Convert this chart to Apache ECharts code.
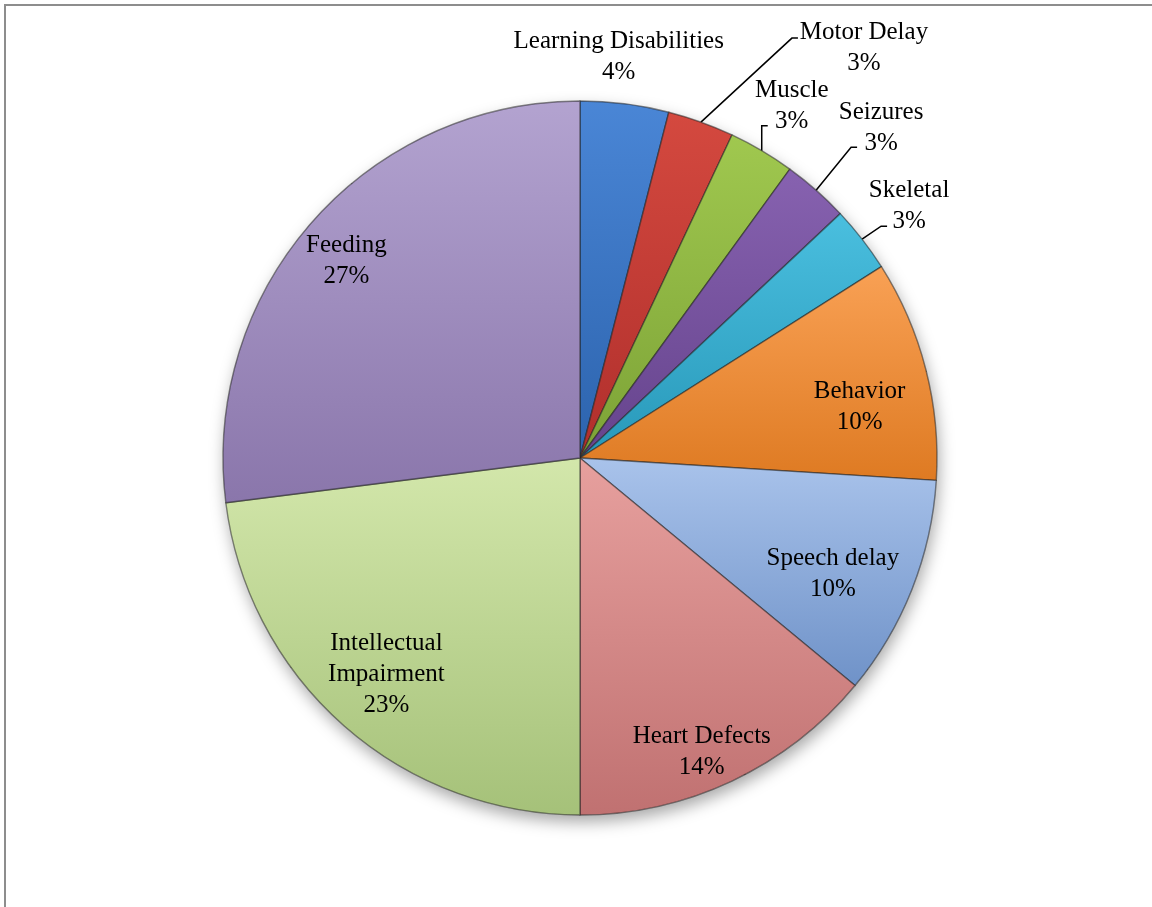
<!DOCTYPE html>
<html>
<head>
<meta charset="utf-8">
<script src="https://cdn.jsdelivr.net/npm/echarts@6/dist/echarts.min.js"></script>
<style>
  html, body { margin: 0; padding: 0; background: #ffffff; }
  #frame {
    position: absolute; left: 4px; top: 4px; width: 1160px; height: 920px;
    border-top: 2px solid #8d8d8d; border-left: 2px solid #8d8d8d;
  }
  #chart { position: absolute; left: 0; top: 0; width: 1152px; height: 907px; }
</style>
</head>
<body>
<div id="frame"></div>
<div id="chart"></div>
<script>
// Share of cases per clinical feature (percent)
const categories = [
  'Learning Disabilities', 'Motor Delay', 'Muscle', 'Seizures', 'Skeletal',
  'Behavior', 'Speech delay', 'Heart Defects', 'Intellectual Impairment', 'Feeding'
];
const percents = [4, 3, 3, 3, 3, 10, 10, 14, 23, 27];

// Slice fills: lighter top tone, darker bottom tone (bevelled look)
const topColors = ['#4a86d6', '#d4493f', '#a0c84f', '#8762b0', '#4abfdf',
                   '#f9a155', '#a9c3eb', '#e7a09e', '#d3e7ab', '#b3a3d0'];
const bottomColors = ['#2c63ad', '#b02f2c', '#7ca236', '#65438c', '#2898b9',
                      '#de7a22', '#6f92c8', '#c07171', '#a5c179', '#8a76ab'];

// Pie geometry
const CX = 580, CY = 458, R = 357;

// Labels drawn inside the slice: radial fraction of R plus small nudge
const insideLabel = {
  'Behavior':                { r: 0.80, dx: 3,   dy: 20 },
  'Speech delay':            { r: 0.78, dx: -6,  dy: 13 },
  'Heart Defects':           { r: 0.88, dx: -12, dy: 10 },
  'Intellectual Impairment': { r: 0.82, dx: 0,   dy: -3 },
  'Feeding':                 { r: 0.85, dx: -6,  dy: 4 }
};
// Labels drawn outside: offset of label centre from the slice's outer edge midpoint,
// and end point of the leader line relative to the label centre
const outsideLabel = {
  'Learning Disabilities': { dx: -6,  dy: -47, line: null },
  'Motor Delay':           { dx: 163, dy: -74, line: [-66, -10] },
  'Muscle':                { dx: 30,  dy: -45, line: [-24, 20] },
  'Seizures':              { dx: 65,  dy: -62, line: [-24, 19] },
  'Skeletal':              { dx: 47,  dy: -33, line: [-22, 20] }
};

const total = percents.reduce((a, b) => a + b, 0);
function midAngle(i) {
  let s = 0;
  for (let k = 0; k < i; k++) s += percents[k];
  return (s + percents[i] / 2) / total * Math.PI * 2;
}
function polar(theta, r) {
  return [CX + r * Math.sin(theta), CY - r * Math.cos(theta)];
}

const labelFont = {
  fontFamily: '"Liberation Serif", "Times New Roman", serif',
  fontSize: 25,
  lineHeight: 31,
  color: '#000000'
};

const seriesData = categories.map((name, i) => {
  const item = {
    name: name,
    value: percents[i],
    itemStyle: {
      color: new echarts.graphic.LinearGradient(0, 0, 0, 1, [
        { offset: 0, color: topColors[i] },
        { offset: 1, color: bottomColors[i] }
      ])
    }
  };
  if (outsideLabel[name]) {
    item.label = { position: 'outside' };
    item.labelLine = { show: !!outsideLabel[name].line };
  }
  return item;
});

const chart = echarts.init(document.getElementById('chart'), null, { renderer: 'canvas' });
chart.setOption({
  backgroundColor: 'transparent',
  animation: false,
  series: [
    {
      // soft drop shadow under the whole disc
      type: 'pie',
      silent: true,
      center: [CX, CY],
      radius: R,
      z: 1,
      label: { show: false },
      labelLine: { show: false },
      itemStyle: {
        color: '#ffffff',
        shadowBlur: 16,
        shadowColor: 'rgba(0,0,0,0.35)',
        shadowOffsetX: 2,
        shadowOffsetY: 7
      },
      data: [{ name: '', value: total }]
    },
    {
      type: 'pie',
      center: [CX, CY],
      radius: R,
      startAngle: 90,
      clockwise: true,
      z: 2,
      emphasis: { disabled: true },
      itemStyle: {
        borderColor: 'rgba(35,35,35,0.55)',
        borderWidth: 1.4
      },
      label: Object.assign({
        show: true,
        position: 'inside',
        align: 'center',
        formatter: p => (p.name === 'Intellectual Impairment' ? 'Intellectual\nImpairment' : p.name) + '\n' + p.value + '%'
      }, labelFont),
      labelLine: {
        show: true,
        smooth: false,
        lineStyle: { color: '#000000', width: 1.5 }
      },
      labelLayout: function (params) {
        const i = params.dataIndex;
        const name = categories[i];
        const theta = midAngle(i);
        if (insideLabel[name]) {
          const cfg = insideLabel[name];
          const p = polar(theta, R * cfg.r);
          return { x: p[0] + cfg.dx, y: p[1] + cfg.dy, align: 'center', verticalAlign: 'middle' };
        }
        const cfg = outsideLabel[name];
        const edge = polar(theta, R);
        const cx = edge[0] + cfg.dx, cy = edge[1] + cfg.dy;
        const out = { x: cx, y: cy, align: 'center', verticalAlign: 'middle' };
        if (cfg.line) {
          const end = [cx + cfg.line[0], cy + cfg.line[1]];
          const bend = [end[0] - 6, end[1]];
          out.labelLinePoints = [edge, bend, end];
        }
        return out;
      },
      data: seriesData
    }
  ]
});
</script>
</body>
</html>
